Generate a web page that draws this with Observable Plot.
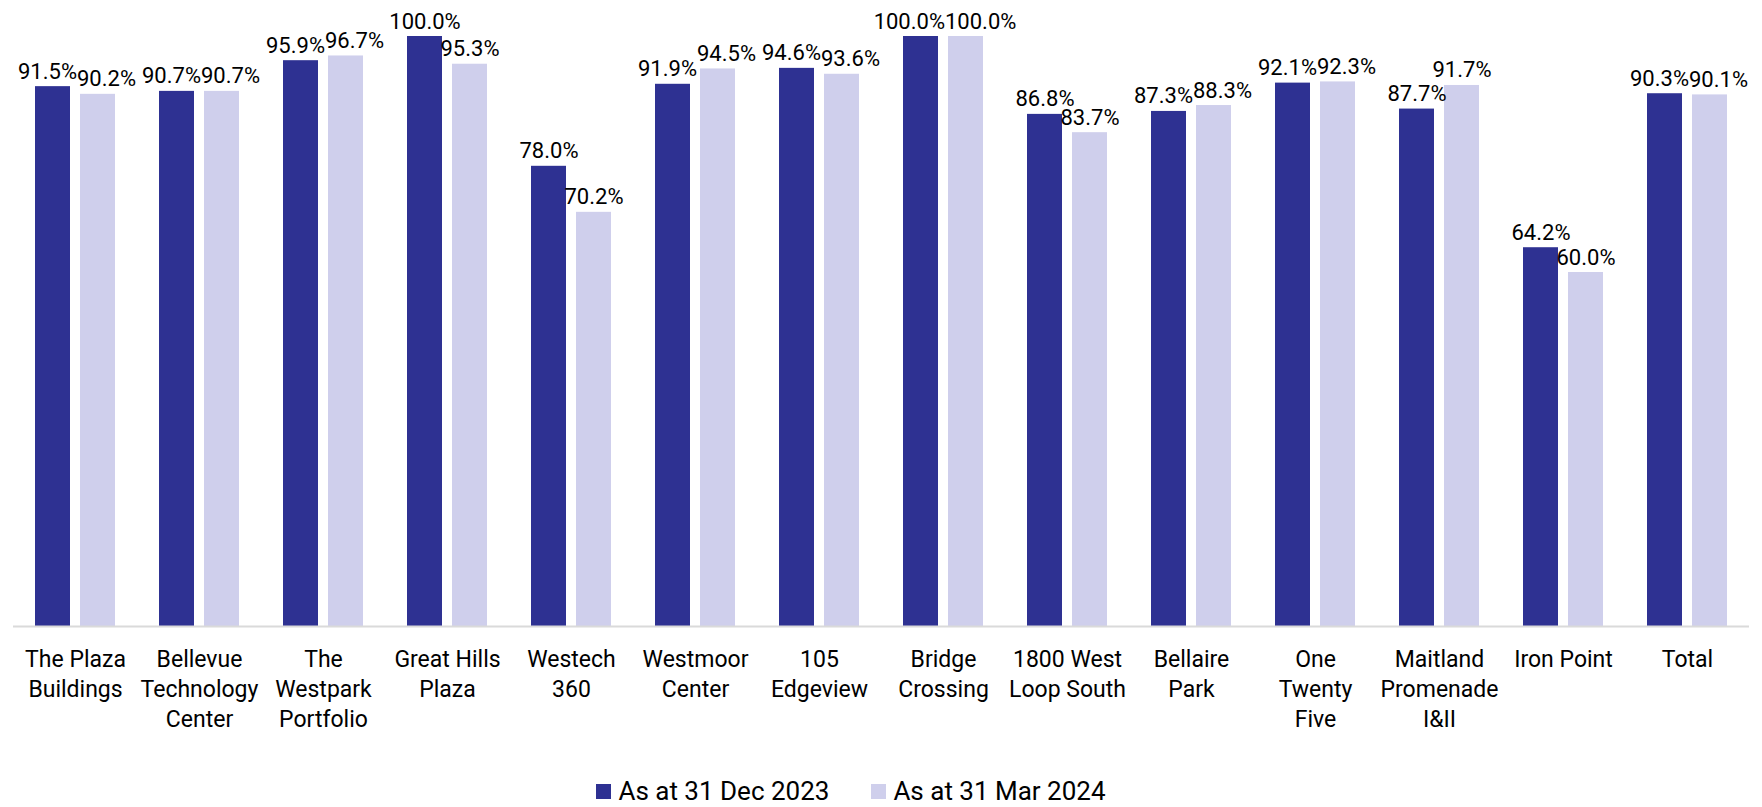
<!DOCTYPE html>
<html>
<head>
<meta charset="utf-8">
<script src="https://cdn.jsdelivr.net/npm/d3@7"></script>
<script src="https://cdn.jsdelivr.net/npm/@observablehq/plot@0.6"></script>
<style>
  html, body { margin: 0; padding: 0; background: #fff; }
  body { width: 1762px; height: 807px; overflow: hidden; font-family: Roboto, sans-serif; }
  #chart svg { display: block; }
  #legend { height: 22px; margin-top: 10px; display: flex; justify-content: center; align-items: center; padding-right: 60px; font-size: 26px; line-height: 22px; color: #000; }
  .item { display: flex; align-items: center; margin: 0 21px; }
  .sw { width: 15px; height: 15px; margin-right: 7px; }
</style>
</head>
<body>
<div id="chart"></div>
<div id="legend"></div>
<script>
const categories = [
  "The Plaza Buildings", "Bellevue Technology Center", "The Westpark Portfolio", "Great Hills Plaza",
  "Westech 360", "Westmoor Center", "105 Edgeview", "Bridge Crossing", "1800 West Loop South",
  "Bellaire Park", "One Twenty Five", "Maitland Promenade I&II", "Iron Point", "Total"
];
const tickLabels = [
  "The Plaza\nBuildings", "Bellevue\nTechnology\nCenter", "The\nWestpark\nPortfolio", "Great Hills\nPlaza",
  "Westech\n360", "Westmoor\nCenter", "105\nEdgeview", "Bridge\nCrossing", "1800 West\nLoop South",
  "Bellaire\nPark", "One\nTwenty\nFive", "Maitland\nPromenade\nI&II", "Iron Point", "Total"
];
const seriesNames = ["As at 31 Dec 2023", "As at 31 Mar 2024"];
const dec2023 = [91.5, 90.7, 95.9, 100.0, 78.0, 91.9, 94.6, 100.0, 86.8, 87.3, 92.1, 87.7, 64.2, 90.3];
const mar2024 = [90.2, 90.7, 96.7, 95.3, 70.2, 94.5, 93.6, 100.0, 83.7, 88.3, 92.3, 91.7, 60.0, 90.1];
const colors = ["#2E3192", "#CFCFEC"];

const data = categories.flatMap((c, i) => [
  {category: c, series: seriesNames[0], value: dec2023[i]},
  {category: c, series: seriesNames[1], value: mar2024[i]}
]);
// groups where the two value labels would collide: place them side by side
const close = new Set(categories.filter((c, i) => Math.abs(dec2023[i] - mar2024[i]) < 3));
const fmt = d => d.value.toFixed(1) + "%";

const labelOpts = {fx: "category", x: "series", y: "value", text: fmt, lineAnchor: "bottom", dy: -8, fontSize: 22};

const chart = Plot.plot({
  width: 1762,
  height: 770,
  marginTop: 36,
  marginBottom: 144,
  marginLeft: 11,
  marginRight: 12,
  style: {fontFamily: "Roboto, sans-serif", background: "#fff", color: "#000"},
  fx: {domain: categories, padding: 0, axis: null},
  x: {domain: seriesNames, paddingInner: 10 / 46, paddingOuter: 0.4585, axis: null},
  y: {domain: [0, 100], axis: null},
  color: {domain: seriesNames, range: colors},
  marks: [
    Plot.barY(data, {fx: "category", x: "series", y: "value", fill: "series"}),
    Plot.ruleY([0], {stroke: "#DADADA", strokeWidth: 2}),
    Plot.text(data.filter(d => !close.has(d.category)), {...labelOpts}),
    Plot.text(data.filter(d => close.has(d.category) && d.series === seriesNames[0]), {...labelOpts, textAnchor: "end", dx: 24}),
    Plot.text(data.filter(d => close.has(d.category) && d.series === seriesNames[1]), {...labelOpts, textAnchor: "start", dx: -21}),
    Plot.text(categories, {fx: d => d, text: (d, i) => tickLabels[i], frameAnchor: "bottom", lineAnchor: "top", dy: 19.5, fontSize: 23, lineHeight: 1.3})
  ]
});
document.getElementById("chart").append(chart);

const legend = document.getElementById("legend");
seriesNames.forEach((name, i) => {
  const item = document.createElement("div");
  item.className = "item";
  const sw = document.createElement("span");
  sw.className = "sw";
  sw.style.background = colors[i];
  const label = document.createElement("span");
  label.textContent = name;
  item.append(sw, label);
  legend.append(item);
});
</script>
</body>
</html>
